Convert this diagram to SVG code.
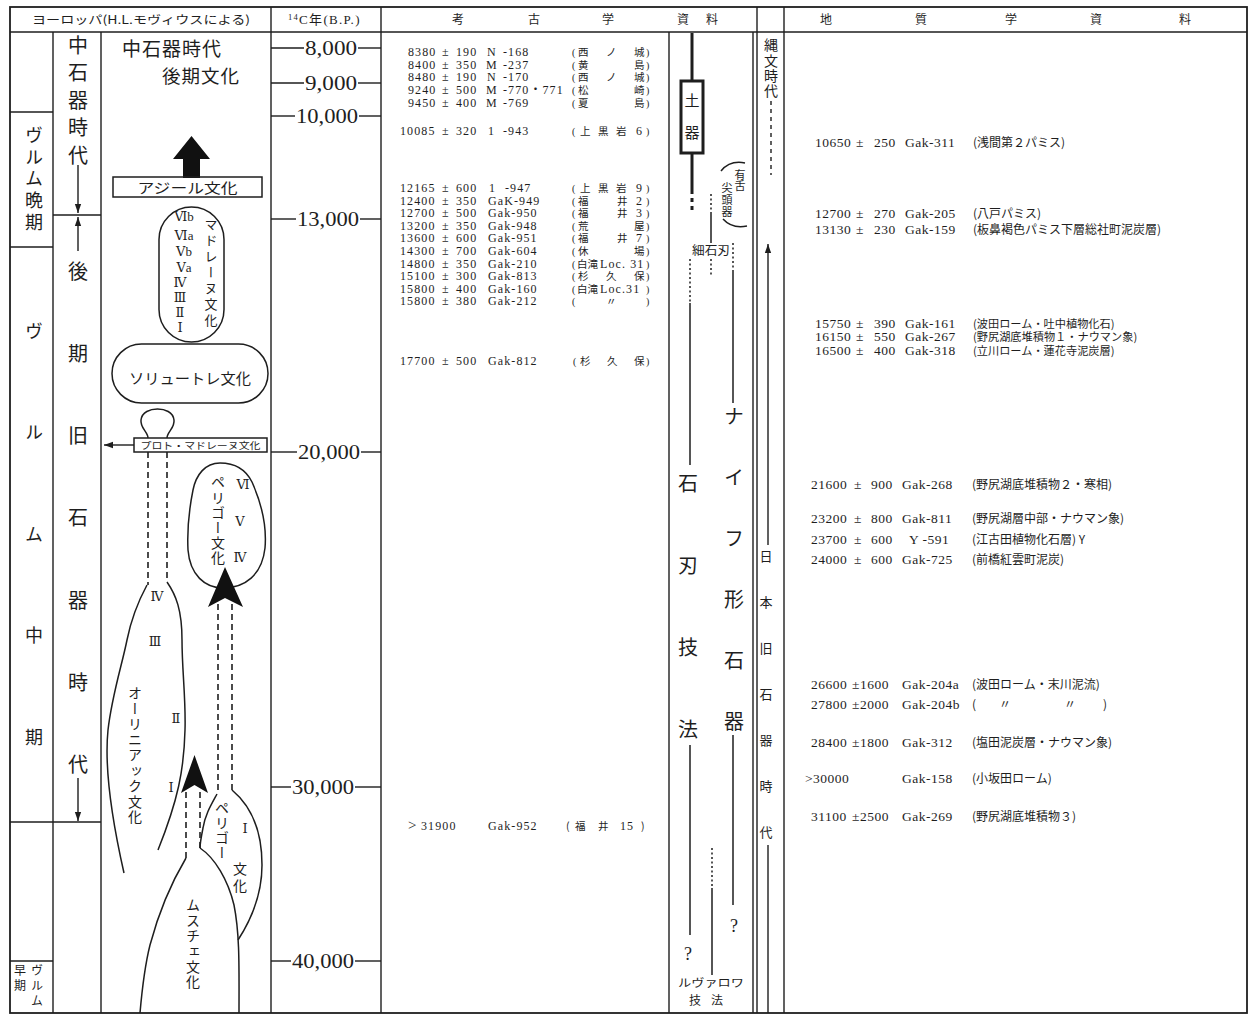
<svg xmlns="http://www.w3.org/2000/svg" width="1251" height="1017" viewBox="0 0 1251 1017">
<defs>
<style>
.ln{stroke:#1e1e1e;stroke-width:1.4;fill:none}
.bd{stroke:#1e1e1e;stroke-width:1.8;fill:none}
.sh{stroke:#1e1e1e;stroke-width:1.5;fill:none}
.da{stroke:#1e1e1e;stroke-width:1.6;fill:none;stroke-dasharray:6 4}
.dt{stroke:#1e1e1e;stroke-width:1.5;fill:none;stroke-dasharray:2 2.5}
.th{stroke:#1e1e1e;stroke-width:3;fill:none}
.j{font-family:"Noto Sans CJK JP",sans-serif;fill:#1e1e1e}
.n{font-family:"Liberation Serif","DejaVu Serif","Noto Sans CJK JP",serif;fill:#1e1e1e}
.m{text-anchor:middle}
.vt{writing-mode:vertical-rl}
.ad{font-family:"Liberation Serif","Noto Sans CJK JP",serif;font-size:12px;letter-spacing:1.1px;fill:#1e1e1e}
.an{font-family:"Noto Sans CJK JP",sans-serif;font-size:10.5px;fill:#1e1e1e}
.pr{font-family:"Liberation Serif",serif;font-size:10px;fill:#1e1e1e}
.gd{font-family:"Liberation Serif","Noto Sans CJK JP",serif;font-size:13.5px;letter-spacing:0.5px;fill:#1e1e1e}
.gn{font-family:"Noto Sans CJK JP",sans-serif;font-size:12px;letter-spacing:0;fill:#1e1e1e}
.gs{font-size:11.2px}
.tick{font-size:21px}
.blk{fill:#111;stroke:none}
</style>
<marker id="ah" viewBox="0 0 10 10" refX="10" refY="5" markerWidth="9" markerHeight="9" markerUnits="userSpaceOnUse" orient="auto"><path d="M0,1.5 L10,5 L0,8.5 z" fill="#1e1e1e"/></marker>
</defs>
<rect width="1251" height="1017" fill="#fff"/>

<g id="grid">
<rect x="10" y="7" width="1237" height="1006" class="bd"/>
<line x1="10" y1="32" x2="1247" y2="32" class="ln"/>
<line x1="53" y1="32" x2="53" y2="1013" class="ln"/>
<line x1="101" y1="32" x2="101" y2="1013" class="ln"/>
<line x1="271" y1="7" x2="271" y2="1013" class="ln"/>
<line x1="381" y1="7" x2="381" y2="1013" class="ln"/>
<line x1="669" y1="32" x2="669" y2="1013" class="ln"/>
<line x1="753" y1="32" x2="753" y2="1013" class="ln"/>
<line x1="757" y1="7" x2="757" y2="1013" class="ln"/>
<line x1="784" y1="7" x2="784" y2="1013" class="ln"/>
<line x1="10" y1="112" x2="53" y2="112" class="ln"/>
<line x1="10" y1="247" x2="53" y2="247" class="ln"/>
<line x1="53" y1="215" x2="101" y2="215" class="ln"/>
<line x1="10" y1="822" x2="101" y2="822" class="ln"/>
<line x1="10" y1="961" x2="53" y2="961" class="ln"/>
</g>

<g id="header">
<text x="141" y="24" class="j m" font-size="11.5" textLength="218" lengthAdjust="spacingAndGlyphs">ヨーロッパ(H.L.モヴィウスによる)</text>
<text x="288" y="24" class="n" font-size="13" letter-spacing="1.3"><tspan font-size="8.5" dy="-4">14</tspan><tspan dy="4">C年(B.P.)</tspan></text>
<text x="458" y="24" class="j m" font-size="12">考</text>
<text x="534" y="24" class="j m" font-size="12">古</text>
<text x="608" y="24" class="j m" font-size="12">学</text>
<text x="683" y="24" class="j m" font-size="12">資</text>
<text x="712" y="24" class="j m" font-size="12">料</text>
<text x="826" y="24" class="j m" font-size="12">地</text>
<text x="921" y="24" class="j m" font-size="12">質</text>
<text x="1011" y="24" class="j m" font-size="12">学</text>
<text x="1096" y="24" class="j m" font-size="12">資</text>
<text x="1185" y="24" class="j m" font-size="12">料</text>
</g>

<g id="col-a">
<text x="34" y="126" class="j vt" font-size="18" letter-spacing="3.8">ヴルム晩期</text>
<text x="34" y="322" class="j vt" font-size="18" letter-spacing="83.5">ヴルム中期</text>
<text x="37" y="964" class="j vt" font-size="12" letter-spacing="3">ヴルム</text>
<text x="20" y="964" class="j vt" font-size="12" letter-spacing="3">早期</text>
</g>

<g id="col-b">
<text x="78" y="35" class="j vt" font-size="20" letter-spacing="7.5">中石器時代</text>
<text x="78" y="261" class="j vt" font-size="20" letter-spacing="62.3">後期旧石器時代</text>
</g>

<g id="mesolithic">
<text x="122" y="55.5" class="j" font-size="19" letter-spacing="1">中石器時代</text>
<text x="162" y="82.5" class="j" font-size="18.5" letter-spacing="1">後期文化</text>
<path class="blk" d="M183,178 L200,178 L200,159 L210,159 L191.5,136 L173,159 L183,159 Z"/>
</g>

<g id="azilian">
<rect x="113" y="177" width="149" height="20" class="sh" fill="#fff"/>
<text x="187.5" y="192.5" class="j m" font-size="14" textLength="100" lengthAdjust="spacingAndGlyphs">アジール文化</text>
</g>

<g id="magdalenian">
<rect x="159" y="207" width="65" height="135" rx="32.5" class="sh"/>
<text x="184" y="221" class="n m" font-size="13">Ⅵb</text>
<text x="184" y="240" class="n m" font-size="13">Ⅵa</text>
<text x="184" y="256" class="n m" font-size="13">Ⅴb</text>
<text x="184" y="272" class="n m" font-size="13">Ⅴa</text>
<text x="180" y="287" class="n m" font-size="13">Ⅳ</text>
<text x="180" y="302" class="n m" font-size="13">Ⅲ</text>
<text x="180" y="317" class="n m" font-size="13">Ⅱ</text>
<text x="180" y="332" class="n m" font-size="13">Ⅰ</text>
<text x="211" y="218" class="j vt" font-size="13" letter-spacing="3">マドレーヌ文化</text>
</g>

<g id="solutrean">
<rect x="112" y="344" width="156" height="59" rx="29.5" class="sh"/>
<text x="190" y="384" class="j m" font-size="15" textLength="122" lengthAdjust="spacingAndGlyphs">ソリュートレ文化</text>
<path class="sh" d="M148,438 C148,432 140,428 141,420 C142,412 150,409 157.5,409 C165,409 173,412 174,420 C175,428 167,432 167,438"/>
</g>

<g id="proto-magdalenian">
<rect x="134" y="438" width="133" height="14" class="sh" fill="#fff"/>
<text x="200.5" y="449" class="j m" font-size="9.5" textLength="120" lengthAdjust="spacingAndGlyphs">プロト・マドレーヌ文化</text>
</g>

<g id="perigordian-upper">
<path class="sh" d="M220,463 C205,463 196,475 193,490 C189,510 187,530 188,550 C190,575 205,588 223,588 C245,588 262,575 265,548 C267,525 260,500 252,482 C245,468 233,463 220,463 Z"/>
<text x="218" y="475" class="j vt" font-size="14" letter-spacing="1.2">ペリゴー文化</text>
<text x="243" y="489" class="n m" font-size="13">Ⅵ</text>
<text x="240" y="526" class="n m" font-size="13">Ⅴ</text>
<text x="240" y="562" class="n m" font-size="13">Ⅳ</text>
</g>

<g id="aurignacian">
<path class="sh" d="M147,585 C140,598 132,615 127,640 C122,665 112,695 108,730 C104,770 112,820 124,873"/>
<path class="sh" d="M167,582 C176,595 182,610 182,640 C182,670 186,700 185,730 C184,770 178,800 158,850"/>
<text x="157" y="601" class="n m" font-size="13">Ⅳ</text>
<text x="155" y="646" class="n m" font-size="13">Ⅲ</text>
<text x="176" y="723" class="n m" font-size="13">Ⅱ</text>
<text x="171" y="792" class="n m" font-size="13">Ⅰ</text>
<text x="135" y="686" class="j vt" font-size="14" letter-spacing="1.5">オーリニアック文化</text>
</g>

<g id="perigordian-lower">
<path class="sh" d="M217,794 C211,805 205,815 203,828 C201,838 200,843 200,848"/>
<path class="sh" d="M232,790 C250,805 262,830 262,865 C262,895 251,920 238,940"/>
<text x="222" y="801" class="j vt" font-size="14" letter-spacing="1">ペリゴー</text>
<text x="240" y="862" class="j vt" font-size="14" letter-spacing="3">文化</text>
<text x="245" y="833" class="n m" font-size="13">Ⅰ</text>
</g>

<g id="mousterian">
<path class="sh" d="M186,858 C170,885 158,915 150,945 C145,965 142,990 140,1013"/>
<path class="sh" d="M200,848 C215,858 228,880 234,905 C240,935 239,970 239,1013"/>
<text x="193" y="898" class="j vt" font-size="14" letter-spacing="1.4">ムスチェ文化</text>
</g>

<g id="ticks">
<line x1="271" y1="48" x2="304" y2="48" class="ln"/><text x="331" y="55" class="n m tick" textLength="52" lengthAdjust="spacingAndGlyphs">8,000</text><line x1="358" y1="48" x2="381" y2="48" class="ln"/>
<line x1="271" y1="83" x2="304" y2="83" class="ln"/><text x="331" y="90" class="n m tick" textLength="52" lengthAdjust="spacingAndGlyphs">9,000</text><line x1="358" y1="83" x2="381" y2="83" class="ln"/>
<line x1="271" y1="116" x2="295" y2="116" class="ln"/><text x="327" y="123" class="n m tick" textLength="62" lengthAdjust="spacingAndGlyphs">10,000</text><line x1="359" y1="116" x2="381" y2="116" class="ln"/>
<line x1="271" y1="219" x2="296" y2="219" class="ln"/><text x="328" y="226" class="n m tick" textLength="62" lengthAdjust="spacingAndGlyphs">13,000</text><line x1="360" y1="219" x2="381" y2="219" class="ln"/>
<line x1="271" y1="452" x2="297" y2="452" class="ln"/><text x="329" y="459" class="n m tick" textLength="62" lengthAdjust="spacingAndGlyphs">20,000</text><line x1="361" y1="452" x2="381" y2="452" class="ln"/>
<line x1="271" y1="787" x2="291" y2="787" class="ln"/><text x="323" y="794" class="n m tick" textLength="62" lengthAdjust="spacingAndGlyphs">30,000</text><line x1="355" y1="787" x2="381" y2="787" class="ln"/>
<line x1="271" y1="961" x2="291" y2="961" class="ln"/><text x="323" y="968" class="n m tick" textLength="62" lengthAdjust="spacingAndGlyphs">40,000</text><line x1="355" y1="961" x2="381" y2="961" class="ln"/>
</g>

<g id="archaeology-data">
<text class="ad"><tspan x="408" y="56">8380</tspan><tspan x="408" y="68.7">8400</tspan><tspan x="408" y="81.4">8480</tspan><tspan x="408" y="94.1">9240</tspan><tspan x="408" y="106.8">9450</tspan><tspan x="400" y="134.5">10085</tspan><tspan x="400" y="192">12165</tspan><tspan x="400" y="204.6">12400</tspan><tspan x="400" y="217.2">12700</tspan><tspan x="400" y="229.8">13200</tspan><tspan x="400" y="242.4">13600</tspan><tspan x="400" y="255">14300</tspan><tspan x="400" y="267.6">14800</tspan><tspan x="400" y="280.2">15100</tspan><tspan x="400" y="292.8">15800</tspan><tspan x="400" y="305.4">15800</tspan><tspan x="400" y="365">17700</tspan></text>
<text class="ad"><tspan x="442" y="56">±</tspan><tspan x="442" y="68.7">±</tspan><tspan x="442" y="81.4">±</tspan><tspan x="442" y="94.1">±</tspan><tspan x="442" y="106.8">±</tspan><tspan x="442" y="134.5">±</tspan><tspan x="442" y="192">±</tspan><tspan x="442" y="204.6">±</tspan><tspan x="442" y="217.2">±</tspan><tspan x="442" y="229.8">±</tspan><tspan x="442" y="242.4">±</tspan><tspan x="442" y="255">±</tspan><tspan x="442" y="267.6">±</tspan><tspan x="442" y="280.2">±</tspan><tspan x="442" y="292.8">±</tspan><tspan x="442" y="305.4">±</tspan><tspan x="442" y="365">±</tspan></text>
<text class="ad"><tspan x="456" y="56">190</tspan><tspan x="456" y="68.7">350</tspan><tspan x="456" y="81.4">190</tspan><tspan x="456" y="94.1">500</tspan><tspan x="456" y="106.8">400</tspan><tspan x="456" y="134.5">320</tspan><tspan x="456" y="192">600</tspan><tspan x="456" y="204.6">350</tspan><tspan x="456" y="217.2">500</tspan><tspan x="456" y="229.8">350</tspan><tspan x="456" y="242.4">600</tspan><tspan x="456" y="255">700</tspan><tspan x="456" y="267.6">350</tspan><tspan x="456" y="280.2">300</tspan><tspan x="456" y="292.8">400</tspan><tspan x="456" y="305.4">380</tspan><tspan x="456" y="365">500</tspan></text>
<text class="ad"><tspan x="487" y="56">N</tspan><tspan x="503">-168</tspan><tspan x="486" y="68.7">M</tspan><tspan x="503">-237</tspan><tspan x="487" y="81.4">N</tspan><tspan x="503">-170</tspan><tspan x="486" y="94.1">M</tspan><tspan x="503">-770・771</tspan><tspan x="486" y="106.8">M</tspan><tspan x="503">-769</tspan><tspan x="488" y="134.5">1</tspan><tspan x="503">-943</tspan><tspan x="489" y="192">1</tspan><tspan x="505">-947</tspan><tspan x="488" y="204.6">GaK-949</tspan><tspan x="488" y="217.2">Gak-950</tspan><tspan x="488" y="229.8">Gak-948</tspan><tspan x="488" y="242.4">Gak-951</tspan><tspan x="488" y="255">Gak-604</tspan><tspan x="488" y="267.6">Gak-210</tspan><tspan x="488" y="280.2">Gak-813</tspan><tspan x="488" y="292.8">Gak-160</tspan><tspan x="488" y="305.4">Gak-212</tspan><tspan x="488" y="365">Gak-812</tspan></text>
<text class="pr"><tspan x="572" y="56">(</tspan><tspan x="572" y="68.7">(</tspan><tspan x="572" y="81.4">(</tspan><tspan x="572" y="94.1">(</tspan><tspan x="572" y="106.8">(</tspan><tspan x="572" y="134.5">(</tspan><tspan x="572" y="192">(</tspan><tspan x="572" y="204.6">(</tspan><tspan x="572" y="217.2">(</tspan><tspan x="572" y="229.8">(</tspan><tspan x="572" y="242.4">(</tspan><tspan x="572" y="255">(</tspan><tspan x="572" y="267.6">(</tspan><tspan x="572" y="280.2">(</tspan><tspan x="572" y="292.8">(</tspan><tspan x="572" y="305.4">(</tspan><tspan x="573" y="365">(</tspan></text>
<text class="pr"><tspan x="646" y="56">)</tspan><tspan x="646" y="68.7">)</tspan><tspan x="646" y="81.4">)</tspan><tspan x="646" y="94.1">)</tspan><tspan x="646" y="106.8">)</tspan><tspan x="646" y="134.5">)</tspan><tspan x="646" y="192">)</tspan><tspan x="646" y="204.6">)</tspan><tspan x="646" y="217.2">)</tspan><tspan x="646" y="229.8">)</tspan><tspan x="646" y="242.4">)</tspan><tspan x="646" y="255">)</tspan><tspan x="646" y="267.6">)</tspan><tspan x="646" y="280.2">)</tspan><tspan x="646" y="292.8">)</tspan><tspan x="646" y="305.4">)</tspan><tspan x="646" y="365">)</tspan></text>
<text class="an"><tspan x="578" y="56">西</tspan><tspan x="606">ノ</tspan><tspan x="634">城</tspan><tspan x="578" y="68.7">黄</tspan><tspan x="634">島</tspan><tspan x="578" y="81.4">西</tspan><tspan x="606">ノ</tspan><tspan x="634">城</tspan><tspan x="578" y="94.1">松</tspan><tspan x="634">崎</tspan><tspan x="578" y="106.8">夏</tspan><tspan x="634">島</tspan><tspan x="580" y="134.5">上</tspan><tspan x="598">黒</tspan><tspan x="616">岩</tspan><tspan x="580" y="192">上</tspan><tspan x="598">黒</tspan><tspan x="616">岩</tspan><tspan x="578" y="204.6">福</tspan><tspan x="617">井</tspan><tspan x="578" y="217.2">福</tspan><tspan x="617">井</tspan><tspan x="578" y="229.8">荒</tspan><tspan x="634">屋</tspan><tspan x="578" y="242.4">福</tspan><tspan x="617">井</tspan><tspan x="578" y="255">休</tspan><tspan x="634">場</tspan><tspan x="577" y="267.6">白滝</tspan><tspan x="578" y="280.2">杉</tspan><tspan x="606">久</tspan><tspan x="634">保</tspan><tspan x="577" y="292.8">白滝</tspan><tspan x="606" y="305.4">〃</tspan><tspan x="580" y="365">杉</tspan><tspan x="607">久</tspan><tspan x="634">保</tspan></text>
<text class="ad" letter-spacing="0"><tspan x="636" y="134.5">6</tspan><tspan x="636" y="192">9</tspan><tspan x="636" y="204.6">2</tspan><tspan x="636" y="217.2">3</tspan><tspan x="636" y="242.4">7</tspan><tspan x="600" y="267.6">Loc. 31</tspan><tspan x="600" y="292.8">Loc.31</tspan></text>
<text y="830" class="ad"><tspan x="408" font-size="15">&gt;</tspan><tspan x="421">31900</tspan><tspan x="488">Gak-952</tspan><tspan class="an" x="566">(</tspan><tspan class="an" x="575">福</tspan><tspan class="an" x="598">井</tspan><tspan x="620">15</tspan><tspan class="an" x="641">)</tspan></text>
</g>

<g id="geology-data">
<text class="gd"><tspan x="815" y="147">10650</tspan><tspan x="815" y="218">12700</tspan><tspan x="815" y="234">13130</tspan><tspan x="815" y="327.5">15750</tspan><tspan x="815" y="341">16150</tspan><tspan x="815" y="354.5">16500</tspan><tspan x="811" y="489">21600</tspan><tspan x="811" y="523">23200</tspan><tspan x="811" y="544">23700</tspan><tspan x="811" y="564">24000</tspan><tspan x="811" y="689">26600</tspan><tspan x="811" y="709">27800</tspan><tspan x="811" y="747">28400</tspan><tspan x="805" y="783">&gt;30000</tspan><tspan x="811" y="821">31100</tspan></text>
<text class="gd"><tspan x="856" y="147">±</tspan><tspan x="856" y="218">±</tspan><tspan x="856" y="234">±</tspan><tspan x="856" y="327.5">±</tspan><tspan x="856" y="341">±</tspan><tspan x="856" y="354.5">±</tspan><tspan x="854" y="489">±</tspan><tspan x="854" y="523">±</tspan><tspan x="854" y="544">±</tspan><tspan x="854" y="564">±</tspan><tspan x="852" y="689">±1600</tspan><tspan x="852" y="709">±2000</tspan><tspan x="852" y="747">±1800</tspan><tspan x="852" y="821">±2500</tspan></text>
<text class="gd"><tspan x="874" y="147">250</tspan><tspan x="874" y="218">270</tspan><tspan x="874" y="234">230</tspan><tspan x="874" y="327.5">390</tspan><tspan x="874" y="341">550</tspan><tspan x="874" y="354.5">400</tspan><tspan x="871" y="489">900</tspan><tspan x="871" y="523">800</tspan><tspan x="871" y="544">600</tspan><tspan x="871" y="564">600</tspan></text>
<text class="gd"><tspan x="905" y="147">Gak-311</tspan><tspan x="905" y="218">Gak-205</tspan><tspan x="905" y="234">Gak-159</tspan><tspan x="905" y="327.5">Gak-161</tspan><tspan x="905" y="341">Gak-267</tspan><tspan x="905" y="354.5">Gak-318</tspan><tspan x="902" y="489">Gak-268</tspan><tspan x="902" y="523">Gak-811</tspan><tspan x="909" y="544">Y -591</tspan><tspan x="902" y="564">Gak-725</tspan><tspan x="902" y="689">Gak-204a</tspan><tspan x="902" y="709">Gak-204b</tspan><tspan x="902" y="747">Gak-312</tspan><tspan x="902" y="783">Gak-158</tspan><tspan x="902" y="821">Gak-269</tspan></text>
<text class="gn"><tspan x="973" y="147">(浅間第２パミス)</tspan><tspan x="973" y="218">(八戸パミス)</tspan><tspan x="973" y="234">(板鼻褐色パミス下層総社町泥炭層)</tspan><tspan class="gs" x="973" y="327.5">(波田ローム・吐中植物化石)</tspan><tspan class="gs" x="973" y="341">(野尻湖底堆積物１・ナウマン象)</tspan><tspan class="gs" x="973" y="354.5">(立川ローム・蓮花寺泥炭層)</tspan><tspan x="972" y="489">(野尻湖底堆積物２・寒相)</tspan><tspan x="972" y="523">(野尻湖層中部・ナウマン象)</tspan><tspan x="972" y="544">(江古田植物化石層) Y</tspan><tspan x="972" y="564">(前橋紅雲町泥炭)</tspan><tspan x="972" y="689">(波田ローム・末川泥流)</tspan><tspan x="972" y="709">(</tspan><tspan x="999">〃</tspan><tspan x="1064">〃</tspan><tspan x="1103">)</tspan><tspan x="972" y="747">(塩田泥炭層・ナウマン象)</tspan><tspan x="972" y="783">(小坂田ローム)</tspan><tspan x="972" y="821">(野尻湖底堆積物３)</tspan></text>
</g>

<g id="pottery">
<line x1="692" y1="33" x2="692" y2="81" class="th"/>
<line x1="692" y1="153" x2="692" y2="194" class="th"/>
<line x1="692" y1="198" x2="692" y2="202" class="th"/>
<line x1="692" y1="206" x2="692" y2="210" class="th"/>
<rect x="681" y="81" width="22" height="72" class="th" fill="#fff"/>
<text x="692" y="93" class="j vt" font-size="15" letter-spacing="17">土器</text>
</g>

<g id="tanged-point">
<path class="sh" d="M721,171 Q730,160 745,163"/>
<path class="sh" d="M723,219 Q732,229 747,226"/>
<text x="740" y="169" class="j vt" font-size="11" letter-spacing="0">有舌</text>
<text x="727" y="182" class="j vt" font-size="11" letter-spacing="1">尖頭器</text>
</g>

<g id="microblade">
<text x="711" y="255" class="j m" font-size="12" textLength="38" lengthAdjust="spacingAndGlyphs">細石刃</text>
</g>

<g id="blade-technique">
<text x="688" y="473" class="j vt" font-size="20" letter-spacing="62.3">石刃技法</text>
<text x="688" y="960" class="n m" font-size="18">?</text>
</g>

<g id="knife-tool">
<text x="734" y="406" class="j vt" font-size="20" letter-spacing="41">ナイフ形石器</text>
<text x="734" y="932" class="n m" font-size="18">?</text>
</g>

<g id="levallois">
<text x="711" y="987" class="j m" font-size="11" textLength="66" lengthAdjust="spacingAndGlyphs">ルヴァロワ</text>
<text x="711" y="1005" class="j m" font-size="12" letter-spacing="10">技法</text>
</g>

<g id="jomon">
<text x="771" y="38" class="j vt" font-size="14" letter-spacing="1.3">縄文時代</text>
</g>

<g id="japan-paleolithic">
<text x="766" y="550" class="j vt" font-size="13" letter-spacing="33">日本旧石器時代</text>
</g>

<g id="connectors">
<line x1="78" y1="165" x2="78" y2="213" class="ln" marker-end="url(#ah)"/>
<line x1="78" y1="251" x2="78" y2="217" class="ln" marker-end="url(#ah)"/>
<line x1="78" y1="778" x2="78" y2="821" class="ln" marker-end="url(#ah)"/>
<line x1="134" y1="445" x2="104" y2="445" class="ln" marker-end="url(#ah)"/>
<line x1="148" y1="452" x2="148" y2="585" class="da"/>
<line x1="167" y1="452" x2="167" y2="582" class="da"/>
<path class="blk" d="M225,567 L243,607 L225,598 L208,607 Z"/>
<line x1="218" y1="604" x2="218" y2="794" class="da"/>
<line x1="232" y1="604" x2="232" y2="790" class="da"/>
<path class="blk" d="M194.5,755 L208,793 L194.5,785 L181,793 Z"/>
<line x1="186" y1="792" x2="186" y2="858" class="da"/>
<line x1="200" y1="792" x2="200" y2="848" class="da"/>
<line x1="711" y1="194" x2="711" y2="212" class="dt"/>
<line x1="711" y1="212" x2="711" y2="243" class="sh"/>
<line x1="711" y1="259" x2="711" y2="277" class="dt"/>
<line x1="690" y1="259" x2="690" y2="303" class="dt"/>
<line x1="690" y1="303" x2="690" y2="465" class="sh"/>
<line x1="690" y1="745" x2="690" y2="935" class="sh"/>
<line x1="733" y1="243" x2="733" y2="270" class="dt"/>
<line x1="733" y1="270" x2="733" y2="403" class="sh"/>
<line x1="733" y1="735" x2="733" y2="905" class="sh"/>
<line x1="712" y1="848" x2="712" y2="888" class="dt"/>
<line x1="712" y1="888" x2="712" y2="975" class="sh"/>
<line x1="771" y1="101" x2="771" y2="175" class="ln" stroke-dasharray="4 4"/>
<line x1="768" y1="545" x2="768" y2="244" class="ln" marker-end="url(#ah)"/>
<line x1="768" y1="845" x2="768" y2="1013" class="ln"/>
</g>
</svg>
